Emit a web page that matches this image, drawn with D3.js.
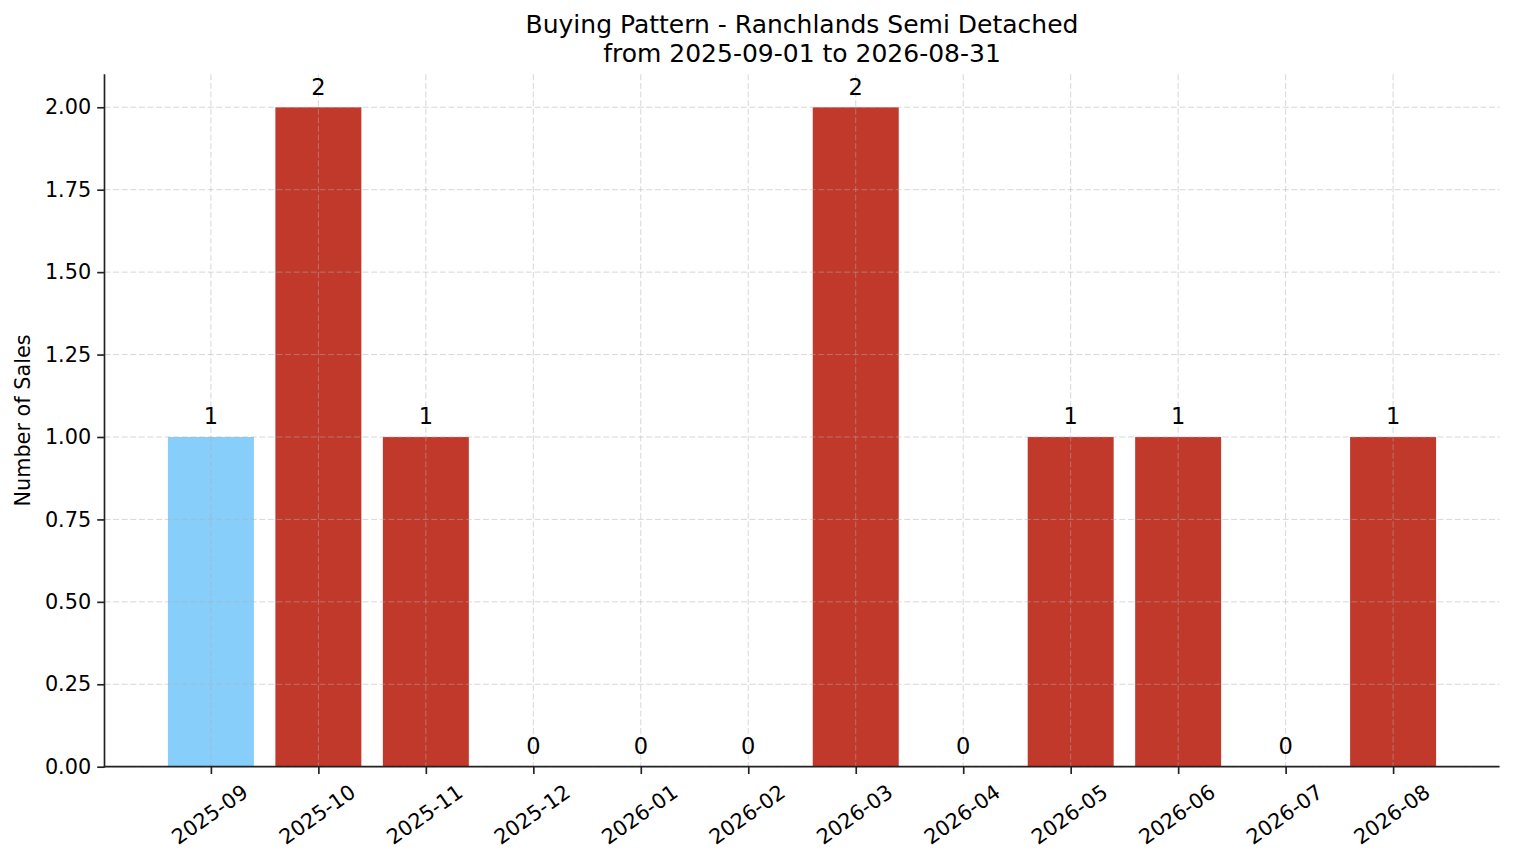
<!DOCTYPE html>
<html>
<head>
<meta charset="utf-8">
<script src="https://cdn.jsdelivr.net/npm/d3@7"></script>
<style>
  html, body { margin: 0; padding: 0; background: #fff; }
  svg { display: block; font-family: "DejaVu Sans", sans-serif; }
</style>
</head>
<body>
<svg id="chart" width="1514" height="863"></svg>
<script>
// ---- data ----
const months = ["2025-09","2025-10","2025-11","2025-12","2026-01","2026-02","2026-03","2026-04","2026-05","2026-06","2026-07","2026-08"];
const sales = [1, 2, 1, 0, 0, 0, 2, 0, 1, 1, 0, 1];
const highlightMonth = "2025-09";
const yTicks = [0, 0.25, 0.5, 0.75, 1.0, 1.25, 1.5, 1.75, 2.0];
const titleLines = ["Buying Pattern - Ranchlands Semi Detached", "from 2025-09-01 to 2026-08-31"];
const yLabel = "Number of Sales";

(function () {
// ---- layout ----
const pLeft = 104.5, pRight = 1499.5, pTop = 74.3, pBottom = 766.7;
const svg = d3.select("#chart");

// x: linear index scale with matplotlib-like margins
const n = months.length;
const barW = 0.8;
const lo = -barW / 2, hi = (n - 1) + barW / 2;
const m = (hi - lo) * 0.05;
const x = d3.scaleLinear().domain([lo - m, hi + m]).range([pLeft, pRight]);
const y = d3.scaleLinear().domain([0, 2.1]).range([pBottom, pTop]);

const fs = 20.8;

// bars
svg.append("g").selectAll("rect").data(months).join("rect")
  .attr("x", (d, i) => x(i - barW / 2))
  .attr("width", (d, i) => x(i + barW / 2) - x(i - barW / 2))
  .attr("y", (d, i) => y(sales[i]))
  .attr("height", (d, i) => y(0) - y(sales[i]))
  .attr("fill", d => d === highlightMonth ? "#87cefa" : "#c0392b");

// grid (above bars, like matplotlib)
const grid = svg.append("g").attr("stroke", "#b0b0b0").attr("stroke-opacity", 0.5)
  .attr("stroke-width", 1.0).attr("stroke-dasharray", "6,2.6");
grid.selectAll("line.h").data(yTicks).join("line").attr("class", "h")
  .attr("x1", pLeft).attr("x2", pRight)
  .attr("y1", d => y(d)).attr("y2", d => y(d));
grid.selectAll("line.v").data(months).join("line").attr("class", "v")
  .attr("x1", (d, i) => x(i)).attr("x2", (d, i) => x(i))
  .attr("y1", pTop).attr("y2", pBottom);

// y axis
const yAxis = d3.axisLeft(y).tickValues(yTicks).tickFormat(d3.format(".2f")).tickSize(7.3).tickPadding(6);
const gy = svg.append("g").attr("transform", `translate(${pLeft},0)`).call(yAxis);
gy.select(".domain").attr("stroke", "#222").attr("stroke-width", 1.67).attr("d", `M0,${pBottom + 0.8}V${pTop}`);
gy.selectAll(".tick line").attr("stroke", "#222").attr("stroke-width", 1.67);
gy.selectAll(".tick text").attr("font-size", fs).attr("font-family", "DejaVu Sans").attr("fill", "#000");

// x axis
const xAxis = d3.axisBottom(x).tickValues(d3.range(n)).tickFormat(i => months[i]).tickSize(7.3).tickPadding(7);
const gx = svg.append("g").attr("transform", `translate(0,${pBottom})`).call(xAxis);
gx.select(".domain").attr("stroke", "#222").attr("stroke-width", 1.67).attr("d", `M${pLeft - 0.8},0H${pRight}`);
gx.selectAll(".tick line").attr("stroke", "#222").attr("stroke-width", 1.67);
gx.selectAll(".tick text")
  .attr("font-size", fs).attr("font-family", "DejaVu Sans").attr("fill", "#000")
  .attr("text-anchor", "middle").attr("dy", null)
  .attr("dominant-baseline", "central")
  .attr("x", -1.5)
  .attr("y", 48)
  .attr("transform", "rotate(-35, -1.5, 48)");

// value labels
svg.append("g").selectAll("text").data(months).join("text")
  .attr("x", (d, i) => x(i))
  .attr("y", (d, i) => y(sales[i]) - 12.7)
  .attr("text-anchor", "middle")
  .attr("font-size", 22.5).attr("fill", "#000")
  .text((d, i) => sales[i]);

// y label
svg.append("text")
  .attr("transform", `translate(30,${(pTop + pBottom) / 2}) rotate(-90)`)
  .attr("text-anchor", "middle").attr("font-size", fs).attr("fill", "#000")
  .text(yLabel);

// title
svg.append("g").selectAll("text").data(titleLines).join("text")
  .attr("x", (pLeft + pRight) / 2)
  .attr("y", (d, i) => 33 + i * 29)
  .attr("text-anchor", "middle").attr("font-size", 25).attr("fill", "#000")
  .text(d => d);
})();
</script>
</body>
</html>
